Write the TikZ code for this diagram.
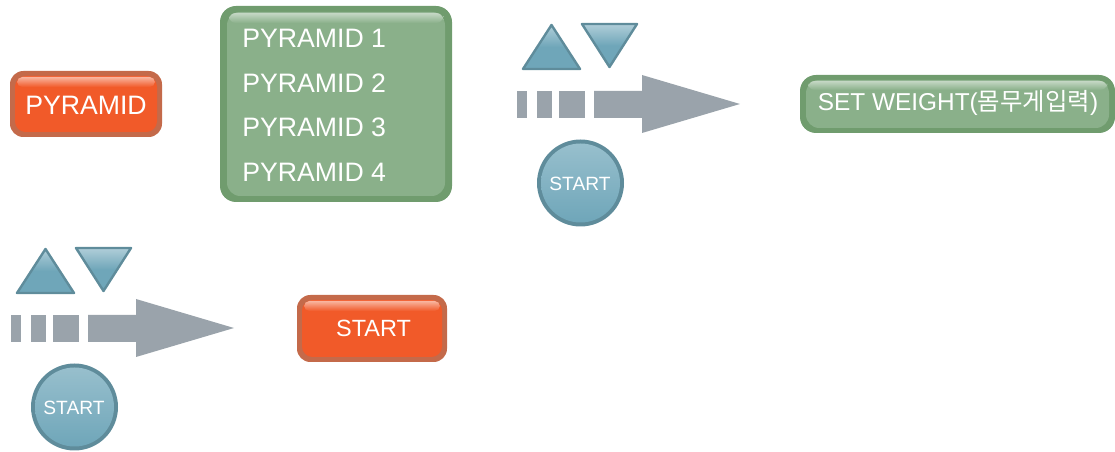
\documentclass[tikz,border=0pt]{standalone}
\usepackage{fontspec}
\setmainfont{Liberation Sans}
\newfontfamily\korfont{Noto Sans CJK KR}
\usepackage{tikz}

\definecolor{orangefill}{RGB}{241,90,41}
\definecolor{orangeedge}{RGB}{196,106,74}
\definecolor{greenfill}{RGB}{138,176,138}
\definecolor{greenedge}{RGB}{112,156,110}
\definecolor{bluefill}{RGB}{111,166,185}
\definecolor{blueedge}{RGB}{95,140,155}
\definecolor{arrowgrey}{RGB}{154,163,171}

\begin{document}
\begin{tikzpicture}[x=0.75pt,y=0.75pt,yscale=-1,xscale=1,
  label/.style={text=white, inner sep=0pt},
  bigfont/.style={font=\fontsize{20}{24}\selectfont},
  tri/.style={draw=blueedge, line width=1.8pt, line join=round, top color=bluefill!55!white, bottom color=bluefill, middle color=bluefill}]
\useasboundingbox (0,0) rectangle (1115,452);

% PYRAMID button
\fill [orangeedge, rounded corners=10] (10,71) rectangle (162,137);
\fill [orangefill, rounded corners=8] (15,76) rectangle (157,132);
\shade [top color=orangefill!45!white, bottom color=orangefill, rounded corners=4] (17,77) rectangle (155,87);
\node [label, bigfont] (pyramid) at (86,105) {PYRAMID};

% list of pyramids
\fill [greenedge, rounded corners=12] (220,6) rectangle (452,202);
\fill [greenfill, rounded corners=10] (227,12) rectangle (445,196);
\shade [top color=greenfill!50!white, bottom color=greenfill, rounded corners=5] (229,13) rectangle (443,23);
\node [label, bigfont, anchor=west] (py1) at (242,38) {PYRAMID 1};
\node [label, bigfont, anchor=west] (py2) at (242,83) {PYRAMID 2};
\node [label, bigfont, anchor=west] (py3) at (242,127) {PYRAMID 3};
\node [label, bigfont, anchor=west] (py4) at (242,172) {PYRAMID 4};

% SET WEIGHT button
\fill [greenedge, rounded corners=12] (800,75) rectangle (1115,133);
\fill [greenfill, rounded corners=10] (806,80) rectangle (1109,128);
\shade [top color=greenfill!50!white, bottom color=greenfill, rounded corners=5] (808,81) rectangle (1107,90);
\node [label, font=\fontsize{18.3}{22}\selectfont] (setweight) at (958,103) {SET WEIGHT({\korfont 몸무게입력})};

% up/down keys, arrow and START key (twice)
\foreach \dx/\dy/\n in {0/0/a, -506/224/b} {
  \begin{scope}[shift={(\dx,\dy)}]
    \path [tri] (523,69) -- (551.5,25) -- (580,69) -- cycle;
    \path [tri] (582,24) -- (637,24) -- (609.5,67) -- cycle;
    \fill [arrowgrey] (517,91) rectangle (527,118);
    \fill [arrowgrey] (537,91) rectangle (552,118);
    \fill [arrowgrey] (559,91) rectangle (585,118);
    \fill [arrowgrey] (594,91) -- (642,91) -- (642,75) -- (740,104) -- (642,133) -- (642,118) -- (594,118) -- cycle;
    \fill [blueedge] (580.5,183) circle [radius=43.5];
    \shade [top color=bluefill!72!white, middle color=bluefill, bottom color=bluefill] (580.5,183) circle [radius=39.5];
    \node [label, font=\fontsize{14.4}{17}\selectfont] (start-\n) at (580,184) {START};
  \end{scope}
}

% START button
\fill [orangeedge, rounded corners=10] (297,295) rectangle (447,362);
\fill [orangefill, rounded corners=8] (302,300) rectangle (442,357);
\shade [top color=orangefill!45!white, bottom color=orangefill, rounded corners=4] (304,301) rectangle (440,311);
\node [label, font=\fontsize{17.6}{21}\selectfont] (startbtn) at (373.5,328) {START};
\end{tikzpicture}
\end{document}
